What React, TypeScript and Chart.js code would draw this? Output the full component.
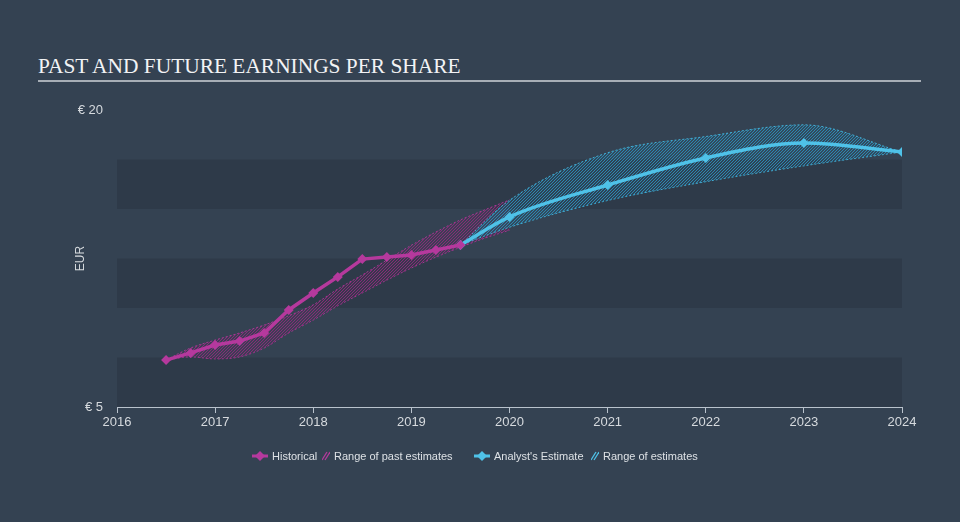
import React, { useEffect, useRef } from 'react';
import { Chart, registerables } from 'chart.js';

Chart.register(...registerables);

// ---- data ----
const histYears = [2016.5, 2016.75, 2017, 2017.25, 2017.5, 2017.75, 2018, 2018.25, 2018.5, 2018.75, 2019, 2019.25, 2019.5];
const histEps = [7.37, 7.73, 8.13, 8.33, 8.74, 9.9, 10.76, 11.57, 12.47, 12.58, 12.68, 12.93, 13.18];

const estYears = [2019.5, 2020, 2021, 2022, 2023, 2024];
const estEps = [13.18, 14.6, 16.21, 17.58, 18.33, 17.88];

const pastRangeYears = [2016.5, 2016.75, 2017, 2017.25, 2017.5, 2017.75, 2018, 2018.25, 2018.5, 2018.75, 2019, 2019.25, 2019.5, 2019.75, 2020];
const pastRangeHigh = [7.38, 7.98, 8.38, 8.74, 9.14, 9.61, 10.16, 10.96, 11.67, 12.42, 13.17, 13.84, 14.45, 14.96, 15.46];
const pastRangeLow = [7.38, 7.53, 7.43, 7.53, 7.98, 8.74, 9.39, 10.11, 10.76, 11.41, 12.02, 12.57, 13.07, 13.53, 13.93];

const estRangeYears = [2019.5, 2020, 2021, 2022, 2023, 2024];
const estRangeHigh = [13.18, 15.44, 17.84, 18.66, 19.25, 17.88];
const estRangeLow = [13.18, 14.08, 15.43, 16.38, 17.18, 17.88];

const xTickValues = [2016, 2017, 2018, 2019, 2020, 2021, 2022, 2023, 2024];
const yTickValues = [5, 20];
const bandStarts = [5, 10, 15];
const bandSize = 2.5;

// ---- styles ----
const BG = '#344252';
const BAND = '#2e3a49';
const MAGENTA = '#b5399d';
const CYAN = '#4fc2e8';
const TEXT = '#d6dade';
const AXIS = '#b9c2cc';

function makeHatch(line: string, tint: string) {
  const s = 3;
  const c = document.createElement('canvas');
  c.width = s;
  c.height = s;
  const g = c.getContext('2d')!;
  g.fillStyle = tint;
  g.fillRect(0, 0, s, s);
  g.fillStyle = line;
  for (let i = 0; i < s; i++) g.fillRect(i, s - 1 - i, 1, 1);
  return g.createPattern(c, 'repeat');
}

const pts = (xs: number[], ys: number[]) => xs.map((x, i) => ({ x, y: ys[i] }));

const bandsPlugin = {
  id: 'bands',
  beforeDraw(chart: any) {
    const { ctx, chartArea, scales } = chart;
    const y = scales.y;
    ctx.save();
    ctx.fillStyle = BAND;
    bandStarts.forEach((s) => {
      const top = y.getPixelForValue(s + bandSize);
      const bot = y.getPixelForValue(s);
      ctx.fillRect(chartArea.left, top, chartArea.right - chartArea.left, bot - top);
    });
    ctx.restore();
  },
};

function LineIcon({ color }: { color: string }) {
  return (
    <svg width={16} height={12} style={{ display: 'block' }}>
      <line x1={0} y1={6} x2={16} y2={6} stroke={color} strokeWidth={3} />
      <polygon points="8,1 13,6 8,11 3,6" fill={color} />
    </svg>
  );
}

function HatchIcon({ color }: { color: string }) {
  return (
    <svg width={8} height={10} style={{ display: 'block' }}>
      <line x1={0} y1={9} x2={5} y2={1} stroke={color} strokeWidth={1.3} />
      <line x1={3} y1={9} x2={8} y2={1} stroke={color} strokeWidth={1.3} />
    </svg>
  );
}

export default function App() {
  const ref = useRef<HTMLCanvasElement>(null);

  useEffect(() => {
    const canvas = ref.current!;
    const magHatch = makeHatch('rgb(136,42,120)', 'rgba(136,42,120,0.1)');
    const cyHatch = makeHatch('rgb(45,135,175)', 'rgba(45,135,175,0.12)');

    const chart = new Chart(canvas, {
      type: 'line',
      data: {
        datasets: [
          {
            label: 'Historical',
            data: pts(histYears, histEps),
            borderColor: MAGENTA,
            backgroundColor: MAGENTA,
            borderWidth: 3.5,
            tension: 0,
            pointStyle: 'rectRot',
            pointRadius: 5,
            pointBorderWidth: 0,
            fill: false,
            order: 0,
          },
          {
            label: "Analyst's Estimate",
            data: pts(estYears, estEps),
            borderColor: CYAN,
            backgroundColor: CYAN,
            borderWidth: 3.5,
            cubicInterpolationMode: 'monotone',
            pointStyle: 'rectRot',
            pointRadius: 5,
            pointBorderWidth: 0,
            fill: false,
            order: 0,
          },
          {
            label: 'Range of past estimates high',
            data: pts(pastRangeYears, pastRangeHigh),
            borderColor: 'rgba(181,57,157,0.85)',
            backgroundColor: magHatch as any,
            borderWidth: 1,
            borderDash: [2, 2],
            pointRadius: 0,
            cubicInterpolationMode: 'monotone',
            fill: '+1',
            order: 2,
          },
          {
            label: 'Range of past estimates low',
            data: pts(pastRangeYears, pastRangeLow),
            borderColor: 'rgba(181,57,157,0.85)',
            borderWidth: 1,
            borderDash: [2, 2],
            pointRadius: 0,
            cubicInterpolationMode: 'monotone',
            fill: false,
            order: 2,
          },
          {
            label: 'Range of estimates high',
            data: pts(estRangeYears, estRangeHigh),
            borderColor: 'rgba(70,185,225,0.9)',
            backgroundColor: cyHatch as any,
            borderWidth: 1,
            borderDash: [2, 2],
            pointRadius: 0,
            cubicInterpolationMode: 'monotone',
            fill: '+1',
            order: 1,
          },
          {
            label: 'Range of estimates low',
            data: pts(estRangeYears, estRangeLow),
            borderColor: 'rgba(70,185,225,0.9)',
            borderWidth: 1,
            borderDash: [2, 2],
            pointRadius: 0,
            cubicInterpolationMode: 'monotone',
            fill: false,
            order: 1,
          },
        ],
      },
      options: {
        responsive: false,
        animation: false,
        devicePixelRatio: 1,
        layout: { padding: { left: 0, right: 58, top: 110, bottom: 85 } },
        plugins: {
          legend: { display: false },
          tooltip: { enabled: false },
          title: { display: false },
        },
        scales: {
          x: {
            type: 'linear',
            min: 2016,
            max: 2024,
            afterBuildTicks: (s: any) => {
              s.ticks = xTickValues.map((v) => ({ value: v }));
            },
            afterFit: (s: any) => {
              s.height = 30;
            },
            ticks: {
              color: TEXT,
              font: { family: 'Liberation Sans, Arial, sans-serif', size: 13 },
              padding: 2,
              maxRotation: 0,
              callback: (v: any) => String(v),
            },
            grid: { drawOnChartArea: false, drawTicks: true, tickLength: 6, color: AXIS, lineWidth: 1 },
            border: { display: true, color: AXIS, width: 1 },
          },
          y: {
            type: 'linear',
            min: 5,
            max: 20,
            afterBuildTicks: (s: any) => {
              s.ticks = yTickValues.map((v) => ({ value: v }));
            },
            afterFit: (s: any) => {
              s.width = 117;
            },
            ticks: {
              color: TEXT,
              font: { family: 'Liberation Sans, Arial, sans-serif', size: 13 },
              padding: 14,
              callback: (v: any) => '€ ' + v,
            },
            grid: { display: false, drawTicks: false },
            border: { display: false },
            title: {
              display: true,
              text: 'EUR',
              color: TEXT,
              font: { family: 'Liberation Sans, Arial, sans-serif', size: 12 },
              padding: { top: 73, bottom: 0 },
            },
          },
        },
      },
      plugins: [bandsPlugin],
    } as any);

    return () => chart.destroy();
  }, []);

  const legendText: React.CSSProperties = {
    position: 'absolute',
    top: 449,
    fontFamily: 'Liberation Sans, Arial, sans-serif',
    fontSize: 11,
    lineHeight: '14px',
    color: '#dde1e5',
    whiteSpace: 'nowrap',
  };

  return (
    <div style={{ position: 'fixed', left: 0, top: 0, width: 960, height: 522, background: BG, overflow: 'hidden' }}>
      <div
        style={{
          position: 'absolute',
          left: 38,
          top: 55.5,
          fontFamily: '"Liberation Serif", "Times New Roman", serif',
          fontSize: 21.4,
          lineHeight: '21.4px',
          color: '#f2f3f5',
          whiteSpace: 'nowrap',
        }}
      >
        PAST AND FUTURE EARNINGS PER SHARE
      </div>
      <div style={{ position: 'absolute', left: 38, top: 80, width: 883, height: 2, background: '#a7aeb6' }} />
      <canvas ref={ref} width={960} height={522} style={{ position: 'absolute', left: 0, top: 0, width: 960, height: 522 }} />
      <div style={{ position: 'absolute', left: 252, top: 450 }}>
        <LineIcon color={MAGENTA} />
      </div>
      <div style={{ ...legendText, left: 272 }}>Historical</div>
      <div style={{ position: 'absolute', left: 322, top: 451 }}>
        <HatchIcon color={MAGENTA} />
      </div>
      <div style={{ ...legendText, left: 334 }}>Range of past estimates</div>
      <div style={{ position: 'absolute', left: 474, top: 450 }}>
        <LineIcon color={CYAN} />
      </div>
      <div style={{ ...legendText, left: 494 }}>Analyst's Estimate</div>
      <div style={{ position: 'absolute', left: 591, top: 451 }}>
        <HatchIcon color={CYAN} />
      </div>
      <div style={{ ...legendText, left: 603 }}>Range of estimates</div>
    </div>
  );
}
